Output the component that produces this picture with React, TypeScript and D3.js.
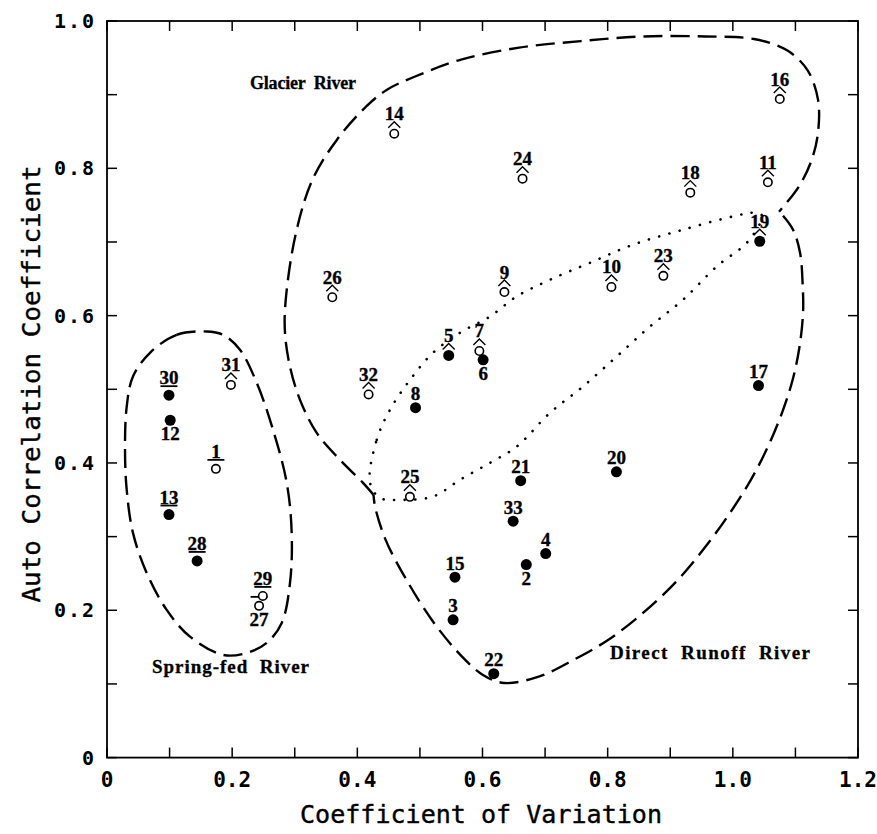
import React from 'react';
import * as d3 from 'd3';

// ---- data ----
const stationIds = [1, 2, 3, 4, 5, 6, 7, 8, 9, 10, 11, 12, 13, 14, 15, 16, 17, 18, 19, 20, 21, 22, 23, 24, 25, 26, 27, 28, 29, 30, 31, 32, 33];
const cvValues = [0.174, 0.670, 0.553, 0.701, 0.546, 0.601, 0.595, 0.493, 0.635, 0.806, 1.056, 0.101, 0.099, 0.459, 0.556, 1.075, 1.041, 0.932, 1.043, 0.814, 0.661, 0.618, 0.889, 0.664, 0.484, 0.360, 0.243, 0.144, 0.249, 0.099, 0.198, 0.418, 0.649];
const acValues = [0.392, 0.262, 0.187, 0.277, 0.546, 0.540, 0.552, 0.475, 0.632, 0.639, 0.781, 0.458, 0.330, 0.847, 0.245, 0.894, 0.505, 0.767, 0.701, 0.388, 0.376, 0.114, 0.654, 0.786, 0.354, 0.625, 0.206, 0.267, 0.2195, 0.492, 0.506, 0.493, 0.321];
const filledIds = [2, 3, 4, 5, 6, 8, 12, 13, 15, 17, 19, 20, 21, 22, 28, 30, 33];
const hatIds = [5, 7, 9, 10, 11, 14, 16, 18, 19, 23, 24, 25, 26, 31, 32];
const barIds = [1, 13, 27, 28, 29, 30];
const labelBelowIds = [2, 6, 12, 27];

const xTicks = [0, 0.1, 0.2, 0.3, 0.4, 0.5, 0.6, 0.7, 0.8, 0.9, 1.0, 1.1, 1.2];
const xTickLabels = ['0', '0.2', '0.4', '0.6', '0.8', '1.0', '1.2'];
const xLabelValues = [0, 0.2, 0.4, 0.6, 0.8, 1.0, 1.2];
const yTicks = [0, 0.1, 0.2, 0.3, 0.4, 0.5, 0.6, 0.7, 0.8, 0.9, 1.0];
const yTickLabels = ['0', '0.2', '0.4', '0.6', '0.8', '1.0'];
const yLabelValues = [0, 0.2, 0.4, 0.6, 0.8, 1.0];

const glacierOutline: [number, number][] = [
  [0.4259, 0.3567], [0.4091, 0.3730], [0.3723, 0.4042], [0.3351, 0.4409], [0.3084, 0.4857],
  [0.2924, 0.5306], [0.2844, 0.5768], [0.2856, 0.6216], [0.3020, 0.7126], [0.3284, 0.7846],
  [0.3675, 0.8389], [0.4139, 0.8837], [0.4474, 0.9068], [0.4933, 0.9250], [0.5657, 0.9476],
  [0.6584, 0.9638], [0.7570, 0.9727], [0.8559, 0.9790], [0.9548, 0.9790], [1.0339, 0.9755],
  [1.0866, 0.9602], [1.1195, 0.9330], [1.1361, 0.8932], [1.1361, 0.8484], [1.1261, 0.8117],
  [1.1058, 0.7757], [1.0738, 0.7411],
];
const directOutline: [number, number][] = [
  [1.0802, 0.7357], [1.0962, 0.7167], [1.1074, 0.6854], [1.1117, 0.6396], [1.1122, 0.6039],
  [1.1066, 0.5581], [1.0956, 0.5129], [1.0786, 0.4681], [1.0562, 0.4223], [1.0288, 0.3771],
  [0.9955, 0.3322], [0.9565, 0.2865], [0.9121, 0.2412], [0.8565, 0.1964], [0.8006, 0.1597],
  [0.7454, 0.1326], [0.6898, 0.1099], [0.6344, 0.1013], [0.6008, 0.1122], [0.5673, 0.1371],
  [0.5225, 0.1828], [0.4786, 0.2412], [0.4452, 0.2956], [0.4283, 0.3408], [0.4259, 0.3567],
];
const mixedOutline: [number, number][] = [
  [0.4203, 0.3730], [0.4310, 0.4314], [0.4522, 0.4722], [0.4842, 0.5129], [0.5209, 0.5496],
  [0.5641, 0.5768], [0.6120, 0.5989], [0.6547, 0.6261], [0.7079, 0.6487], [0.7718, 0.6718],
  [0.8405, 0.6963], [0.9204, 0.7167], [1.0003, 0.7347], [1.0355, 0.7397], [1.0467, 0.7357],
  [1.0243, 0.7008], [0.9743, 0.6668], [0.9204, 0.6216], [0.8677, 0.5853], [0.8145, 0.5446],
  [0.7606, 0.5038], [0.7079, 0.4681], [0.6547, 0.4223], [0.6120, 0.4002], [0.5641, 0.3771],
  [0.5209, 0.3544], [0.4682, 0.3499], [0.4362, 0.3526],
];
const springOutline: [number, number][] = [
  [0.1593, 0.5785], [0.1114, 0.5740], [0.0687, 0.5496], [0.0415, 0.5174], [0.0315, 0.4766],
  [0.0288, 0.4178], [0.0315, 0.3635], [0.0415, 0.3051], [0.0634, 0.2507], [0.0954, 0.2005],
  [0.1326, 0.1642], [0.1854, 0.1394], [0.2232, 0.1421], [0.2552, 0.1557], [0.2792, 0.1828],
  [0.2924, 0.2372], [0.2951, 0.3051], [0.2872, 0.3730], [0.2653, 0.4450], [0.2392, 0.5088],
  [0.2125, 0.5537], [0.1854, 0.5740],
];

const regionNames = ['Glacier  River', 'Direct  Runoff  River', 'Spring-fed  River'];

// ---- layout ----
const W = 877;
const H = 834;
const left = 107, right = 858, top = 21, bottom = 757.6;

const serif = '"Liberation Serif", "Times New Roman", serif';
const mono = '"DejaVu Sans Mono", monospace';

export default function App() {
  const x = d3.scaleLinear().domain([0, 1.2]).range([left, right]);
  const y = d3.scaleLinear().domain([0, 1]).range([bottom, top]);

  const openLine = d3.line<[number, number]>().x(d => x(d[0])).y(d => y(d[1])).curve(d3.curveCatmullRom.alpha(0.5));
  const closedLine = d3.line<[number, number]>().x(d => x(d[0])).y(d => y(d[1])).curve(d3.curveCatmullRomClosed.alpha(0.5));

  const tickLen = 10;

  return (
    <svg width={W} height={H} style={{ position: 'absolute', left: 0, top: 0, background: '#fff' }}>
      <rect x={0} y={0} width={W} height={H} fill="#fff" />
      {/* frame */}
      <rect x={left} y={top} width={right - left} height={bottom - top} fill="none" stroke="#000" strokeWidth={1.8} />
      {/* ticks */}
      {xTicks.map((t, i) => (
        <g key={'xt' + i}>
          <line x1={x(t)} x2={x(t)} y1={bottom} y2={bottom - tickLen} stroke="#000" strokeWidth={1.5} />
          <line x1={x(t)} x2={x(t)} y1={top} y2={top + tickLen} stroke="#000" strokeWidth={1.5} />
        </g>
      ))}
      {yTicks.map((t, i) => (
        <g key={'yt' + i}>
          <line x1={left} x2={left + tickLen} y1={y(t)} y2={y(t)} stroke="#000" strokeWidth={1.5} />
          <line x1={right} x2={right - tickLen} y1={y(t)} y2={y(t)} stroke="#000" strokeWidth={1.5} />
        </g>
      ))}
      {/* tick labels */}
      {xLabelValues.map((v, i) => (
        <text key={'xl' + i} x={x(v)} y={787} textAnchor="middle" fontFamily={mono} fontSize={21} fontWeight="bold">
          {xTickLabels[i]}
        </text>
      ))}
      {yLabelValues.map((v, i) => (
        <text key={'yl' + i} x={96} y={y(v) + 7} textAnchor="end" fontFamily={mono} fontSize={20} fontWeight="bold" letterSpacing={2}>
          {yTickLabels[i]}
        </text>
      ))}
      {/* axis titles */}
      <text x={481} y={823} textAnchor="middle" fontFamily={mono} fontSize={25} textLength={362} lengthAdjust="spacingAndGlyphs" stroke="#000" strokeWidth={0.4}>
        Coefficient of Variation
      </text>
      <text transform={`translate(40,384) rotate(-90)`} textAnchor="middle" fontFamily={mono} fontSize={25} textLength={437} lengthAdjust="spacingAndGlyphs" stroke="#000" strokeWidth={0.4}>
        Auto Correlation Coefficient
      </text>

      {/* outlines */}
      <path d={openLine(glacierOutline) || ''} fill="none" stroke="#000" strokeWidth={2.4} strokeDasharray="19 8" />
      <path d={openLine(directOutline) || ''} fill="none" stroke="#000" strokeWidth={2.4} strokeDasharray="19 8" />
      <path d={closedLine(springOutline) || ''} fill="none" stroke="#000" strokeWidth={2.4} strokeDasharray="19 8" />
      <path d={closedLine(mixedOutline) || ''} fill="none" stroke="#000" strokeWidth={2.6} strokeDasharray="0.1 10.5" strokeLinecap="round" />

      {/* region names */}
      <text x={250} y={89} fontFamily={serif} fontWeight="bold" fontSize={18} textLength={106} stroke="#000" strokeWidth={0.3} style={{ whiteSpace: 'pre' }}>{regionNames[0]}</text>
      <text x={610} y={659} fontFamily={serif} fontWeight="bold" fontSize={19} textLength={200} stroke="#000" strokeWidth={0.3} style={{ whiteSpace: 'pre' }}>{regionNames[1]}</text>
      <text x={152} y={673} fontFamily={serif} fontWeight="bold" fontSize={19} textLength={157} stroke="#000" strokeWidth={0.3} style={{ whiteSpace: 'pre' }}>{regionNames[2]}</text>

      {/* points */}
      {stationIds.map((id, i) => {
        const cx = x(cvValues[i]);
        const cy = y(acValues[i]);
        const filled = filledIds.includes(id);
        const hat = hatIds.includes(id);
        const bar = barIds.includes(id);
        const below = labelBelowIds.includes(id);
        let ly = cy - 7.5;
        if (hat) ly = cy - 13.5;
        if (bar) ly = cy - 11;
        if (below) ly = cy + 20;
        return (
          <g key={'p' + id}>
            {filled ? (
              <circle cx={cx} cy={cy} r={5.5} fill="#000" />
            ) : (
              <circle cx={cx} cy={cy} r={4.2} fill="#fff" stroke="#000" strokeWidth={1.6} />
            )}
            {hat && (
              <path d={`M${cx - 6},${cy - 6} L${cx},${cy - 12} L${cx + 6},${cy - 6}`} fill="none" stroke="#000" strokeWidth={1.4} />
            )}
            {bar && (
              <line x1={cx - 8.5} x2={cx + 8.5} y1={cy - 9} y2={cy - 9} stroke="#000" strokeWidth={1.8} />
            )}
            <text x={cx} y={ly} textAnchor="middle" fontFamily={serif} fontWeight="bold" fontSize={19} stroke="#000" strokeWidth={0.35}>
              {id}
            </text>
          </g>
        );
      })}
    </svg>
  );
}
